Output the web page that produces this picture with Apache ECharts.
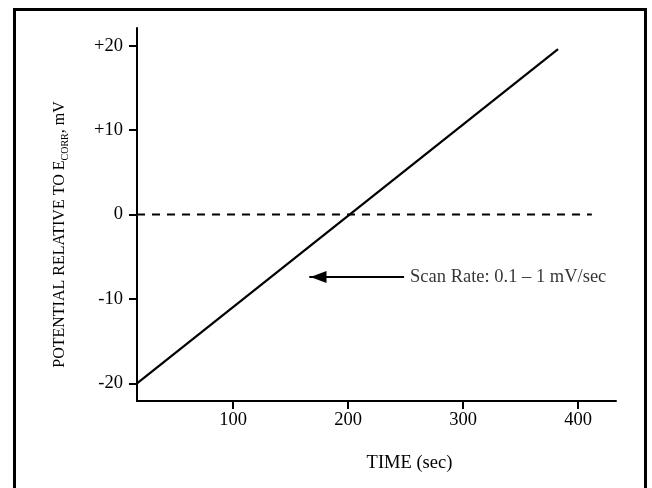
<!DOCTYPE html>
<html>
<head>
<meta charset="utf-8">
<script src="https://cdn.jsdelivr.net/npm/echarts@6/dist/echarts.min.js"></script>
<style>html,body{margin:0;padding:0;background:#fff}#c{width:652px;height:488px}</style>
</head>
<body>
<div id="c"></div>
<script>
// Data
const timeSec = [16.5, 382.6];
const potential = [-20, 19.6];
const zeroLineTime = [16.5, 412];
const zeroLineValue = [0, 0];
const arrowTime = [248.7, 166.3];
const arrowValue = [-7.4, -7.4];
const annotation = 'Scan Rate: 0.1 \u2013 1 mV/sec';
const xTicks = [100, 200, 300, 400];
const yTicks = [-20, -10, 0, 10, 20];
const xRange = [16.5, 433];
const yRange = [-22.1, 22.1];

const FONT = '"Liberation Serif", "Times New Roman", serif';
const chart = echarts.init(document.getElementById('c'), null, {renderer: 'canvas'});

const axisLine = {show: true, onZero: false, lineStyle: {color: '#000', width: 2}};
const axisTick = {show: true, inside: false, length: 8, lineStyle: {color: '#000', width: 2}};

chart.setOption({
  animation: false,
  backgroundColor: '#fff',
  grid: {left: 137, top: 28, right: 36, bottom: 87, containLabel: false},
  graphic: [{
    type: 'rect', silent: true, z: 100,
    shape: {x: 14.5, y: 9.5, width: 631, height: 490},
    style: {fill: 'none', stroke: '#000', lineWidth: 3}
  }],
  xAxis: {
    type: 'value', min: xRange[0], max: xRange[1],
    name: 'TIME (sec)', nameLocation: 'middle', nameGap: 53,
    nameTextStyle: {fontFamily: FONT, fontSize: 18.5, color: '#000', padding: [0, 0, 0, 66]},
    axisLine: axisLine,
    axisTick: Object.assign({customValues: xTicks}, axisTick),
    axisLabel: {customValues: xTicks, fontFamily: FONT, fontSize: 18.5, color: '#000', margin: 10},
    splitLine: {show: false}
  },
  yAxis: {
    type: 'value', min: yRange[0], max: yRange[1],
    name: '{a|POTENTIAL RELATIVE TO E}{s|CORR}{a|, mV}',
    nameLocation: 'middle', nameGap: 67, nameRotate: 90,
    nameTextStyle: {
      fontFamily: FONT, color: '#000', padding: [0, 40, 0, 0],
      rich: {
        a: {fontFamily: FONT, fontSize: 16, color: '#000', lineHeight: 20},
        s: {fontFamily: FONT, fontSize: 10, color: '#000', lineHeight: 12, verticalAlign: 'bottom'}
      }
    },
    axisLine: axisLine,
    axisTick: Object.assign({customValues: yTicks}, axisTick),
    axisLabel: {
      customValues: yTicks, fontFamily: FONT, fontSize: 18.5, color: '#000', margin: 14,
      formatter: v => (v > 0 ? '+' + v : String(v))
    },
    splitLine: {show: false}
  },
  series: [
    {
      type: 'line', symbol: 'none', silent: true,
      data: timeSec.map((t, i) => [t, potential[i]]),
      lineStyle: {color: '#000', width: 2.2}
    },
    {
      type: 'line', symbol: 'none', silent: true,
      data: zeroLineTime.map((t, i) => [t, zeroLineValue[i]]),
      lineStyle: {color: '#000', width: 2, type: [8, 7]}
    },
    {
      type: 'line', symbol: 'none', silent: true,
      data: arrowTime.map((t, i) => [t, arrowValue[i]]),
      lineStyle: {color: '#000', width: 2},
      markLine: {
        silent: true, animation: false,
        symbol: ['none', 'triangle'], symbolSize: [12, 16],
        label: {show: false},
        lineStyle: {color: '#000', width: 2, type: 'solid'},
        data: [[{coord: [arrowTime[0], arrowValue[0]]}, {coord: [arrowTime[1] + 8, arrowValue[1]]}]]
      }
    },
    {
      type: 'scatter', symbolSize: 0, silent: true,
      data: [[arrowTime[0], arrowValue[0]]],
      label: {
        show: true, position: 'right', distance: 6,
        formatter: annotation, fontFamily: FONT, fontSize: 18.5, color: '#000'
      }
    }
  ]
});
</script>
</body>
</html>
